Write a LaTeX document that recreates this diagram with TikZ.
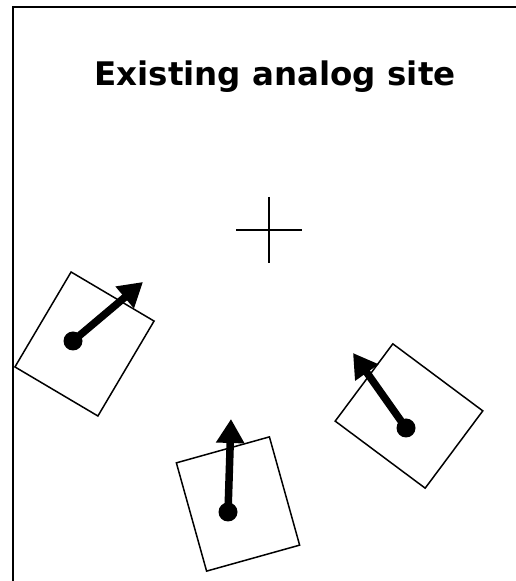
\documentclass[tikz,border=0pt]{standalone}
\usepackage{fontspec}
\newfontfamily\titlefont{DejaVu Sans}
\usetikzlibrary{arrows.meta}
\tikzset{
  frameline/.style={line width=2pt},
  crossline/.style={line width=1.5pt},
  antbox/.style={draw, line width=1.5pt, inner sep=0pt, rectangle},
  antdot/.style={circle, fill=black, inner sep=0pt, minimum size=19pt},
  beam/.style={line width=7.5pt, -{Triangle[length=24pt,width=27pt]}},
}
\begin{document}
\begin{tikzpicture}[x=1pt,y=1pt]
\useasboundingbox (0,0) rectangle (515,581);
% frame
\coordinate (fbl) at (13,-5);
\coordinate (ftl) at (13,574);
\coordinate (ftr) at (520,574);
\draw[frameline] (fbl) -- (ftl) -- (ftr);
% title
\node[anchor=base, inner sep=0pt, font=\titlefont\bfseries\fontsize{32.5}{39}\selectfont] (title) at (275,495) {Existing analog site};
% cross
\coordinate (cl) at (236,351);
\coordinate (cr) at (302,351);
\coordinate (ct) at (269,384);
\coordinate (cb) at (269,318);
\draw[crossline] (cl) -- (cr);
\draw[crossline] (ct) -- (cb);
% left antenna
\node[antbox, minimum width=96.4pt, minimum height=110.3pt, rotate=-30.6] (boxA) at (84.5,237) {};
\node[antdot] (dotA) at (73,240) {};
\coordinate (tipA) at (143,299);
\draw[beam] (dotA.center) -- (tipA);
% right antenna
\node[antbox, minimum width=112.2pt, minimum height=96.4pt, rotate=-36.7] (boxB) at (409,165) {};
\node[antdot] (dotB) at (406,153) {};
\coordinate (tipB) at (353,228);
\draw[beam] (dotB.center) -- (tipB);
% bottom antenna
\node[antbox, minimum width=96.6pt, minimum height=112.4pt, rotate=15.6] (boxC) at (238,77) {};
\node[antdot] (dotC) at (228,69) {};
\coordinate (tipC) at (231,162);
\draw[beam] (dotC.center) -- (tipC);
\end{tikzpicture}
\end{document}
